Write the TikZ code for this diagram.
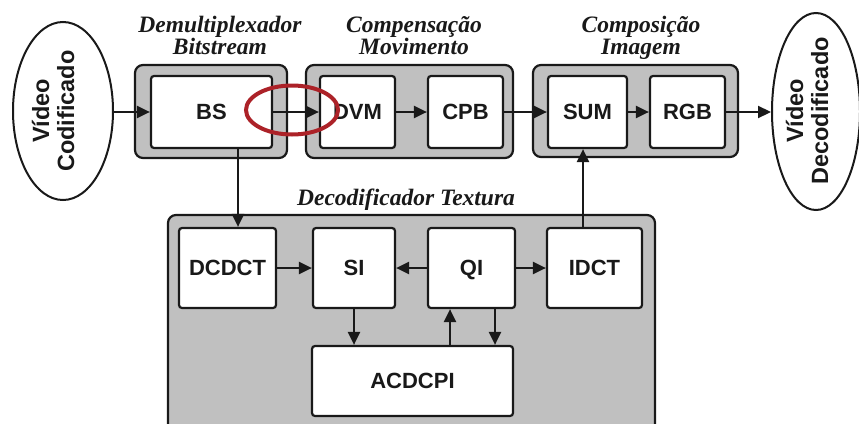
\documentclass[tikz,border=0pt]{standalone}
\usepackage{fontspec}
\setmainfont{Liberation Serif}
\setsansfont{Liberation Sans}
\usetikzlibrary{shapes.geometric,arrows.meta,calc}
\definecolor{panelgray}{RGB}{192,192,192}
\definecolor{inkline}{RGB}{25,25,25}
\definecolor{ringred}{RGB}{172,34,40}
\tikzset{
  grp/.style={draw=inkline, fill=panelgray, line width=2.2pt, rounded corners=8pt},
  blk/.style={draw=inkline, fill=white, line width=2.2pt, rounded corners=3pt,
              text height=15.75pt, text depth=0pt,
              font=\sffamily\bfseries\fontsize{22}{24}\selectfont, text=inkline},
  oval/.style={draw=inkline, fill=white, ellipse, line width=2pt, inner sep=0pt},
  ovaltext/.style={rotate=90, align=center, text=inkline,
              font=\sffamily\bfseries\fontsize{23.5}{25}\selectfont},
  ttl/.style={align=center, text=inkline, inner sep=0pt,
              font=\bfseries\itshape\fontsize{23.5}{22}\selectfont},
  arr/.style={draw=inkline, line width=2.2pt, -{Triangle[length=13pt,width=12pt]}}
}
\begin{document}
\begin{tikzpicture}[x=1pt,y=-1pt]
\useasboundingbox (0,0) rectangle (859,423);

% group panels
\draw[grp] (135,65) rectangle (287,158);
\draw[grp] (306,65) rectangle (513,158);
\draw[grp] (533,65) rectangle (738,157);
\draw[grp] (168,215) rectangle (655,432);

% panel titles
\node[ttl, anchor=base] (t1) at (220,32) {Demultiplexador};
\node[ttl, anchor=base] (t1b) at (220,54) {Bitstream};
\node[ttl, anchor=base] (t2) at (414,32) {Compensação};
\node[ttl, anchor=base] (t2b) at (414,54) {Movimento};
\node[ttl, anchor=base] (t3) at (641,32) {Composição};
\node[ttl, anchor=base] (t3b) at (641,54) {Imagem};
\node[ttl, anchor=base] (t4) at (406,205) {Decodificador Textura};

% input and output ovals
\node[oval, minimum width=100pt, minimum height=178pt] (vin) at (63,111) {};
\node[ovaltext] (vintxt) at (53,111) {Vídeo\\Codificado};
\node[oval, minimum width=88pt, minimum height=197pt] (vout) at (816,111.5) {};
\node[ovaltext] (vouttxt) at (807,111) {Vídeo\\Decodificado};

% top row blocks
\node[blk, minimum width=121pt, minimum height=72pt] (bs)  at (211.5,112) {BS};
\node[blk, minimum width=75pt,  minimum height=72pt] (dvm) at (357.5,112) {DVM};
\node[blk, minimum width=75pt,  minimum height=72pt] (cpb) at (465.5,112) {CPB};
\node[blk, minimum width=79pt,  minimum height=72pt] (sum) at (587.5,112) {SUM};
\node[blk, minimum width=75pt,  minimum height=72pt] (rgb) at (687.5,112) {RGB};

% texture decoder blocks
\node[blk, minimum width=97pt, minimum height=80pt] (dcdct) at (227.5,268) {DCDCT};
\node[blk, minimum width=82pt, minimum height=80pt] (si)    at (354,268) {SI};
\node[blk, minimum width=87pt, minimum height=80pt] (qi)    at (471.5,268) {QI};
\node[blk, minimum width=95pt, minimum height=80pt] (idct)  at (594.5,268) {IDCT};
\node[blk, minimum width=201pt, minimum height=70pt] (acdcpi) at (412.5,381) {ACDCPI};

% main data path
\draw[arr] (vin.east |- bs) -- (bs.west);
\draw[arr] (bs.east) -- (dvm.west);
\draw[arr] (dvm.east) -- (cpb.west);
\draw[arr] (cpb.east) -- (sum.west);
\draw[arr] (sum.east) -- (rgb.west);
\draw[arr] (rgb.east) -- (vout.west |- rgb);

% texture path
\coordinate (bsdown) at ([xshift=26.5]bs.south);
\draw[arr] (bsdown) -- (bsdown |- dcdct.north);
\coordinate (idctup) at ([xshift=-11.5]idct.north);
\draw[arr] (idctup) -- (idctup |- sum.south);
\draw[arr] (dcdct.east) -- (si.west);
\draw[arr] (qi.west) -- (si.east);
\draw[arr] (qi.east) -- (idct.west);
\draw[arr] (si.south) -- (si.south |- acdcpi.north);
\coordinate (qiup) at ([xshift=-21.5]qi.south);
\draw[arr] (qiup |- acdcpi.north) -- (qiup);
\coordinate (qidown) at ([xshift=23.5]qi.south);
\draw[arr] (qidown) -- (qidown |- acdcpi.north);

% highlight ring
\draw[ringred, line width=4pt] (292,110) ellipse [x radius=46, y radius=24.5];
\end{tikzpicture}
\end{document}
